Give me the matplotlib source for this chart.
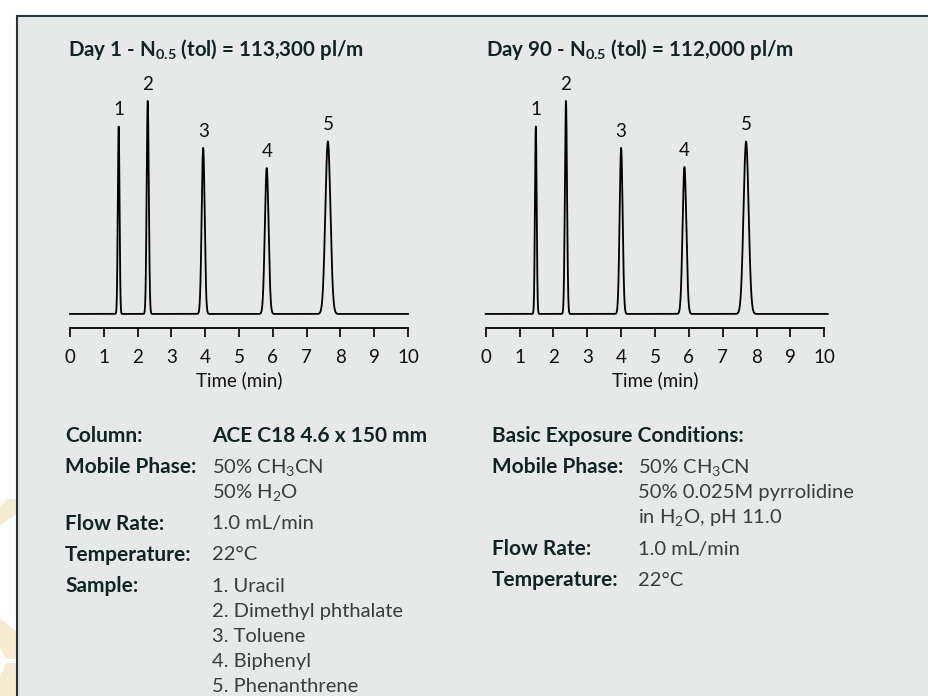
import numpy as np
import matplotlib
matplotlib.use("Agg")
import matplotlib.pyplot as plt
from matplotlib.patches import Rectangle, Polygon
from matplotlib.lines import Line2D

plt.rcParams['font.family'] = ['Lato', 'DejaVu Sans']
plt.rcParams['mathtext.fontset'] = 'custom'
plt.rcParams['mathtext.rm'] = 'Lato'
plt.rcParams['mathtext.default'] = 'regular'

W, H = 929, 696
PANEL = '#e6e9e8'
EDGE = '#1c3a3c'
DARK = '#0e2526'
GREY = '#3a3d3d'

# peak tables: retention time (min), height (peak 2 = 100), sigma (min)
peak_ids = ['1', '2', '3', '4', '5']
day1_rt = [1.44, 2.30, 3.94, 5.82, 7.63]
day1_height = [88, 100, 78, 68.5, 81]
day90_rt = [1.48, 2.37, 4.00, 5.87, 7.69]
day90_height = [88, 100, 78, 69, 81]
peak_sigma = [0.025, 0.031, 0.044, 0.055, 0.075]

day1_title = r'Day 1 - N$_{0.5}$ (tol) = 113,300 pl/m'
day90_title = r'Day 90 - N$_{0.5}$ (tol) = 112,000 pl/m'


def px(x, y):
    return x / W, 1 - y / H


def fig_axes(fig, x0, x1, y0, y1):
    l, b = px(x0, y1)
    r, t = px(x1, y0)
    return fig.add_axes([l, b, r - l, t - b])


def chromatogram(t, rts, heights, sigmas):
    sig = np.zeros_like(t)
    for rt, h, s in zip(rts, heights, sigmas):
        sig += h * np.exp(-0.5 * ((t - rt) / s) ** 2)
    return sig


def draw_run(ax, rts, heights, t_end):
    t = np.linspace(0, t_end, 6001)
    ax.plot(t, chromatogram(t, rts, heights, peak_sigma), color='k', lw=1.3,
            clip_on=False)
    for lab, rt, h in zip(peak_ids, rts, heights):
        ax.annotate(lab, (rt, h), xytext=(0, 12), textcoords='offset points',
                    ha='center', va='center', fontsize=13.5, color='#111')
    ax.set_xlim(0, 10)
    ax.set_ylim(-6.6, 100)
    ax.set_facecolor('none')
    for s in ['top', 'right', 'left']:
        ax.spines[s].set_visible(False)
    ax.spines['bottom'].set_linewidth(1.3)
    ax.set_yticks([])
    ax.set_xticks(range(11))
    ax.tick_params(axis='x', direction='out', length=6.5, width=1.3, pad=8.5,
                   labelsize=13.5, colors='#111')
    ax.set_xlabel('Time (min)', fontsize=13.5, color='#111', labelpad=4)


fig = plt.figure(figsize=(W / 100, H / 100), dpi=100)

# grey panel with a dark rule on top and left
fig.patches.append(Rectangle(px(17, 696), (W - 17) / W, (696 - 16) / H,
                             transform=fig.transFigure, facecolor=PANEL,
                             edgecolor='none', zorder=-2))
fig.add_artist(Line2D([17 / W, 1], [1 - 16 / H] * 2, color=EDGE, lw=1.5))
fig.add_artist(Line2D([17 / W] * 2, [0, 1 - 16 / H], color=EDGE, lw=1.5))

# logo fragments at the left margin
for pts in ([(7, 499), (17, 499), (17, 513), (0, 526), (0, 507)],
            [(0, 618), (17, 632), (17, 659), (6, 659), (0, 648)],
            [(6, 663), (17, 663), (17, 696), (0, 696), (0, 677)]):
    fig.patches.append(Polygon([px(x, y) for x, y in pts], closed=True,
                               transform=fig.transFigure, facecolor='#f7ecd2',
                               edgecolor='none', zorder=-2))

ax1 = fig_axes(fig, 70, 408, 101, 328)
draw_run(ax1, day1_rt, day1_height, 10.0)
ax2 = fig_axes(fig, 485.7, 824.3, 101, 328)
draw_run(ax2, day90_rt, day90_height, 10.1)

fig.text(*px(68, 50), day1_title, fontsize=14.8, fontweight='bold',
         color=DARK, va='center')
fig.text(*px(486, 50), day90_title, fontsize=14.8, fontweight='bold',
         color=DARK, va='center')

# run conditions
left_rows = [
    ('Column:', 436, ['ACE C18 4.6 x 150 mm'], True),
    ('Mobile Phase:', 467, ['50% CH$_3$CN', '50% H$_2$O'], False),
    ('Flow Rate:', 524, ['1.0 mL/min'], False),
    ('Temperature:', 555, ['22°C'], False),
    ('Sample:', 586, ['1. Uracil', '2. Dimethyl phthalate', '3. Toluene',
                      '4. Biphenyl', '5. Phenanthrene'], False),
]
right_rows = [
    ('Mobile Phase:', 467, ['50% CH$_3$CN', '50% 0.025M pyrrolidine',
                            'in H$_2$O, pH 11.0'], False),
    ('Flow Rate:', 549, ['1.0 mL/min'], False),
    ('Temperature:', 580, ['22°C'], False),
]


def draw_rows(rows, x_lab, x_val, step):
    for lab, y, vals, bold_val in rows:
        fig.text(*px(x_lab, y), lab, fontsize=15, fontweight='bold',
                 color=DARK, va='center')
        for i, v in enumerate(vals):
            fig.text(*px(x_val, y + i * step), v,
                     fontsize=15 if bold_val else 14.5,
                     fontweight='bold' if bold_val else 'normal',
                     color=DARK if bold_val else GREY, va='center')


draw_rows(left_rows, 65, 212, 25.2)
fig.text(*px(492, 436), 'Basic Exposure Conditions:', fontsize=15,
         fontweight='bold', color=DARK, va='center')
draw_rows(right_rows, 492, 638, 25.5)

fig.savefig('out.png', dpi=100, facecolor='white')
